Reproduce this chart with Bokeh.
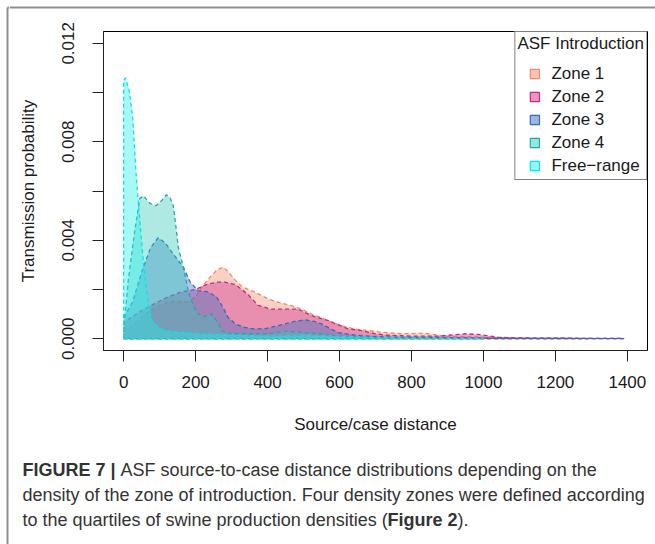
from bokeh.plotting import figure
from bokeh.models import (Range1d, FixedTicker, NumeralTickFormatter, Legend, LegendItem,
                          Label)
from bokeh.layouts import row, column
from bokeh.embed import file_html
from bokeh.resources import INLINE

# ---------------- data ----------------
zone1_dist = [0, 30, 60, 90, 124, 155, 180, 200, 217, 240, 260, 277, 292, 309, 330, 346, 365, 383,
              405, 430, 467, 494, 522, 550, 569, 605, 640, 680, 717, 772, 837, 892, 950, 1000,
              1100, 1200, 1300]
zone1_prob = [0.00026, 0.0006, 0.001, 0.00128, 0.0015, 0.0015, 0.0015, 0.0017, 0.0021, 0.0025,
              0.0028, 0.0029, 0.0027, 0.0024, 0.0021, 0.0020, 0.0019, 0.00175, 0.0016, 0.00148,
              0.00134, 0.0012, 0.001, 0.00085, 0.00073, 0.00053, 0.0004, 0.00033, 0.00026,
              0.0002, 0.00022, 0.0001, 0.00008, 0.00006, 0.00003, 0.00002, 0.00001]

zone2_dist = [0, 50, 96, 124, 160, 200, 230, 260, 280, 310, 328, 345, 374, 410, 447, 485, 522,
              569, 624, 661, 700, 725, 800, 870, 920, 950, 994, 1041, 1100, 1200, 1300, 1390]
zone2_prob = [0.00066, 0.00114, 0.0015, 0.0017, 0.0019, 0.0020, 0.0022, 0.0023, 0.0023, 0.0022,
              0.0020, 0.0018, 0.00135, 0.0012, 0.0012, 0.0012, 0.00094, 0.00073, 0.0004,
              0.00033, 0.0002, 0.00015, 0.0001, 0.0001, 0.00016, 0.0002, 0.00016, 0.00006,
              0.00003, 0.00002, 0.00001, 0.00001]

zone3_dist = [0, 25, 50, 75, 96, 115, 140, 166, 185, 207, 235, 258, 275, 290, 310, 336, 360, 392,
              420, 448, 475, 504, 530, 550, 575, 597, 640, 680, 750, 850, 1000, 1200, 1390]
zone3_prob = [0.00085, 0.0015, 0.0027, 0.0037, 0.0041, 0.0039, 0.0034, 0.0029, 0.0023, 0.00195,
              0.0019, 0.0017, 0.0013, 0.00087, 0.0006, 0.00046, 0.0004, 0.0004, 0.0005, 0.0006,
              0.0007, 0.00077, 0.0007, 0.0006, 0.0004, 0.00025, 0.00015, 0.0001, 0.00006,
              0.00005, 0.00003, 0.00002, 0.00001]

zone4_dist = [0, 13, 31, 45, 55, 73, 90, 105, 119, 130, 138, 145, 152, 166, 180, 195, 207, 225,
              244, 260, 275, 300, 350, 400, 450, 500, 550, 600, 700, 800, 1000]
zone4_prob = [0.0003, 0.0024, 0.0044, 0.0057, 0.0058, 0.0055, 0.0054, 0.0056, 0.00585, 0.0057,
              0.0054, 0.0046, 0.0037, 0.0029, 0.0019, 0.0013, 0.001, 0.0009, 0.001, 0.0007,
              0.0003, 0.0002, 0.0002, 0.0002, 0.0003, 0.00025, 0.0002, 0.0001, 0.00005,
              0.00002, 0.0]

free_dist = [0, 5, 15, 25, 36, 45, 55, 65, 78, 100, 130, 200, 300, 400, 500, 600, 700, 800, 900,
             1000]
free_prob = [0.0105, 0.0106, 0.0101, 0.0090, 0.0064, 0.0048, 0.0031, 0.0018, 0.00075, 0.0004,
             0.0003, 0.0002, 0.00015, 0.0001, 0.00012, 0.0001, 0.00005, 0.00003, 0.00001, 0.0]

series_names = ["Zone 1", "Zone 2", "Zone 3", "Zone 4", "Free\u2212range"]
x_ticks = [0, 200, 400, 600, 800, 1000, 1200, 1400]
y_ticks = [0.0, 0.002, 0.004, 0.006, 0.008, 0.010, 0.012]

# ---------------- styling / layout ----------------
FONT = "Liberation Sans"
fills = ["#F17956", "#D64E9C", "#396BC5", "#34CAB9", "#25EDE8"]
lines = ["#F08A6A", "#C8287F", "#2F6DB5", "#20A8A8", "#00E8E8"]
alphas = [0.35, 0.5, 0.4, 0.4, 0.4]
GRAY = "#8f8f8f"

W, H = 655, 544
OX, OY = 9, 18                # width of the left strip / height of the top strip
MAIN_BOTTOM = 450             # page y where the chart panel ends and the caption starts
FL, FR, FT, FB = 103, 647, 31, 350  # plot frame edges in page px


def no_align(f):
    try:
        f.frame_align = False
    except Exception:
        pass


def blank(width, height, xr, yr):
    f = figure(width=width, height=height, output_backend="svg", toolbar_location=None,
               x_range=Range1d(*xr), y_range=Range1d(*yr), x_axis_type=None, y_axis_type=None,
               min_border=0)
    f.outline_line_color = None
    f.grid.visible = False
    f.background_fill_color = "white"
    f.border_fill_color = "white"
    no_align(f)
    return f


# left strip with the vertical frame line
left = blank(OX, H, (0, OX), (H, 0))
left.segment(x0=[7, 7], y0=[7, 7], x1=[7, OX], y1=[H, 7], line_color=GRAY, line_width=2)

# top strip with the horizontal frame line
top = blank(W - OX, OY, (OX, W), (OY, 0))
top.segment(x0=[OX], y0=[7], x1=[W], y1=[7], line_color=GRAY, line_width=2)

# main chart
p = figure(width=W - OX, height=MAIN_BOTTOM - OY, output_backend="svg", toolbar_location=None,
           x_range=Range1d(-56, 1456), y_range=Range1d(-0.00048, 0.01248),
           min_border_left=FL - OX, min_border_right=W - FR, min_border_top=FT - OY,
           min_border_bottom=MAIN_BOTTOM - FB)
no_align(p)
p.grid.visible = False
p.outline_line_color = "black"
p.outline_line_width = 1
p.background_fill_color = "white"
p.border_fill_color = "white"

datasets = [(zone1_dist, zone1_prob), (zone2_dist, zone2_prob), (zone3_dist, zone3_prob),
            (zone4_dist, zone4_prob), (free_dist, free_prob)]
legend_items = []
for i, (d, pr) in enumerate(datasets):
    xs = [d[0]] + list(d) + [d[-1]]
    ys = [0.0] + list(pr) + [0.0]
    p.patch(xs, ys, fill_color=fills[i], fill_alpha=alphas[i], line_color=lines[i],
            line_width=1.3, line_dash="4 3")
    r = p.scatter(x=[float("nan")], y=[float("nan")], marker="square", fill_color=fills[i],
                  fill_alpha=alphas[i] + 0.1, line_color=lines[i], line_width=1.2)
    legend_items.append(LegendItem(label=series_names[i], renderers=[r]))

for ax in (p.xaxis[0], p.yaxis[0]):
    ax.major_tick_out = 11
    ax.major_tick_in = 0
    ax.minor_tick_line_color = None
    ax.major_tick_line_color = "#222222"
    ax.axis_line_color = "#222222"
    ax.major_label_text_font = FONT
    ax.major_label_text_font_size = "17px"
    ax.major_label_text_color = "#1a1a1a"
    ax.axis_label_text_font = FONT
    ax.axis_label_text_font_size = "17px"
    ax.axis_label_text_font_style = "normal"
    ax.axis_label_text_color = "#1a1a1a"

p.xaxis.ticker = FixedTicker(ticks=x_ticks)
p.xaxis.axis_label = "Source/case distance"
p.xaxis.major_label_standoff = 14
p.xaxis.axis_label_standoff = 24

p.yaxis.ticker = FixedTicker(ticks=y_ticks)
p.yaxis.formatter = NumeralTickFormatter(format="0.000")
p.yaxis.major_label_overrides = {0.002: "", 0.006: "", 0.010: ""}
p.yaxis.major_label_orientation = "vertical"
p.yaxis.major_label_standoff = 18
p.yaxis.axis_label = "Transmission probability"
p.yaxis.axis_label_standoff = 22

legend = Legend(items=legend_items, location="top_right", margin=0, padding=2,
                title="ASF Introduction", title_text_font=FONT, title_text_font_size="17px",
                title_text_font_style="normal", title_text_color="#1a1a1a", title_standoff=8,
                label_text_font=FONT, label_text_font_size="17px", label_text_color="#1a1a1a",
                glyph_width=34, glyph_height=23, label_height=23, label_standoff=0, spacing=0,
                border_line_color="black", border_line_width=1, background_fill_alpha=1)
p.add_layout(legend)

# caption panel (its data coordinates are page pixels)
capfig = blank(W - OX, H - MAIN_BOTTOM, (OX, W), (H, MAIN_BOTTOM))
CAP = "18px"
cap_color = "#333333"


def cap(text, x, y, bold=False):
    capfig.add_layout(Label(x=x, y=y, text=text, text_font=FONT, text_font_size=CAP,
                            text_color=cap_color, text_baseline="middle",
                            text_font_style="bold" if bold else "normal"))


cap("FIGURE 7 |", 22, 469, bold=True)
cap("ASF source-to-case distance distributions depending on the", 120, 469)
cap("density of the zone of introduction. Four density zones were defined according", 22, 494)
cap("to the quartiles of swine production densities (", 22, 519)
cap("Figure 2", 387, 519, bold=True)
cap(").", 457, 519)

layout = row(left, column(top, p, capfig, spacing=0), spacing=0)
open("out.html", "w").write(file_html(layout, INLINE))
